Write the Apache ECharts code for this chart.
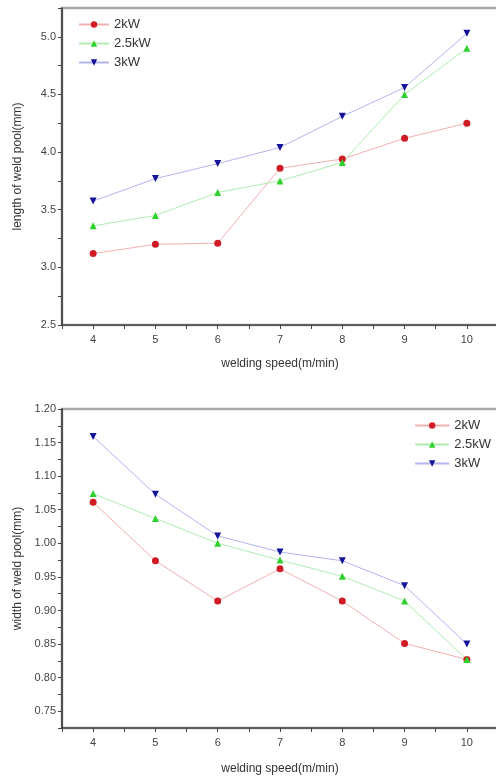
<!DOCTYPE html>
<html>
<head>
<meta charset="utf-8">
<script src="https://cdn.jsdelivr.net/npm/echarts@6/dist/echarts.min.js"></script>
<style>
    html, body { margin: 0; padding: 0; background: #fff; }
    #chart { width: 496px; height: 780px; }
</style>
</head>
<body>
<div id="chart"></div>
<script>
var speeds = [4, 5, 6, 7, 8, 9, 10];
var seriesNames = ["2kW", "2.5kW", "3kW"];
// length of weld pool (mm)
var len2kW = [3.12, 3.20, 3.21, 3.86, 3.94, 4.12, 4.25];
var len25kW = [3.36, 3.45, 3.65, 3.75, 3.91, 4.50, 4.90];
var len3kW = [3.575, 3.77, 3.90, 4.04, 4.31, 4.56, 5.03];
// width of weld pool (mm)
var wid2kW = [1.061, 0.974, 0.914, 0.962, 0.914, 0.851, 0.827];
var wid25kW = [1.074, 1.037, 1.000, 0.975, 0.951, 0.914, 0.827];
var wid3kW = [1.159, 1.073, 1.011, 0.987, 0.974, 0.937, 0.850];

(function() {
    var chart = echarts.init(document.getElementById("chart"), null, { renderer: "canvas" }),
        font = "Liberation Sans",
        styles = [
            { mark: "#d01c24", line: "#f2b0b0", symbol: "circle", rotate: 0 },
            { mark: "#2fd12f", line: "#b0ecb0", symbol: "triangle", rotate: 0 },
            { mark: "#14149a", line: "#b4b4ee", symbol: "triangle", rotate: 180 }
        ];

    function pairs(ys) {
        return speeds.map(function(x, i) {
            return [x, ys[i]];
        });
    }

    function mkSeries(idx, name, ys, k) {
        var s = styles[k];
        return {
            name: name,
            type: "line",
            xAxisIndex: idx,
            yAxisIndex: idx,
            symbol: s.symbol,
            symbolRotate: s.rotate,
            symbolSize: 7,
            lineStyle: { color: s.line, width: 1 },
            itemStyle: { color: s.mark },
            data: pairs(ys)
        };
    }

    function xAx(idx, gap) {
        return {
            type: "value",
            gridIndex: idx,
            min: 3.5,
            max: 10.5,
            interval: 0.5,
            name: "welding speed(m/min)",
            nameLocation: "middle",
            nameGap: gap,
            nameTextStyle: { fontFamily: font, fontSize: 12, color: "#333" },
            axisLine: { lineStyle: { color: "#444", width: 1.5 } },
            axisTick: { show: true, length: 4, lineStyle: { color: "#444" } },
            axisLabel: {
                fontFamily: font, fontSize: 11, color: "#444", margin: 9,
                formatter: function(v) {
                    return Math.abs(v - Math.round(v)) < 1e-6 ? String(Math.round(v)) : "";
                }
            },
            splitLine: { show: false }
        };
    }

    function yAx(idx, name, min, max, step, major, digits) {
        return {
            type: "value",
            gridIndex: idx,
            min: min,
            max: max,
            interval: step,
            name: name,
            nameLocation: "middle",
            nameGap: 38,
            nameTextStyle: { fontFamily: font, fontSize: 12, color: "#333" },
            axisLine: { show: true, lineStyle: { color: "#333", width: 1.5 } },
            axisTick: { show: true, length: 4, lineStyle: { color: "#444" } },
            axisLabel: {
                fontFamily: font, fontSize: 11, color: "#444", margin: 6,
                formatter: function(v) {
                    return Math.round(v * 1000) % Math.round(major * 1000) === 0 ? v.toFixed(digits) : "";
                }
            },
            splitLine: { show: false }
        };
    }

    var option = {
        animation: false,
        backgroundColor: "#fff",
        textStyle: { fontFamily: font },
        grid: [
            { left: 62, top: 8, right: -2, height: 317, outerBoundsMode: "none", containLabel: false,
                show: true, borderColor: "#a8a8a8", borderWidth: 2.5 },
            { left: 62, top: 409, right: -2, height: 319, outerBoundsMode: "none", containLabel: false,
                show: true, borderColor: "#a8a8a8", borderWidth: 2.5 }
        ],
        legend: [
            {
                orient: "vertical", left: 73, top: 13, itemGap: 6, itemWidth: 30, itemHeight: 8,
                data: seriesNames,
                textStyle: { fontFamily: font, fontSize: 13, color: "#333" }
            },
            {
                orient: "vertical", right: 0, top: 414, itemGap: 6, itemWidth: 34, itemHeight: 8,
                data: seriesNames,
                textStyle: { fontFamily: font, fontSize: 13, color: "#333" }
            }
        ],
        xAxis: [xAx(0, 33), xAx(1, 35)],
        yAxis: [
            yAx(0, "length of weld pool(mm)", 2.5, 5.25, 0.25, 0.5, 1),
            yAx(1, "width of weld pool(mm)", 0.725, 1.2, 0.025, 0.05, 2)
        ],
        series: [
            mkSeries(0, seriesNames[0], len2kW, 0),
            mkSeries(0, seriesNames[1], len25kW, 1),
            mkSeries(0, seriesNames[2], len3kW, 2),
            mkSeries(1, seriesNames[0], wid2kW, 0),
            mkSeries(1, seriesNames[1], wid25kW, 1),
            mkSeries(1, seriesNames[2], wid3kW, 2)
        ]
    };

    chart.setOption(option);
}());
</script>
</body>
</html>
